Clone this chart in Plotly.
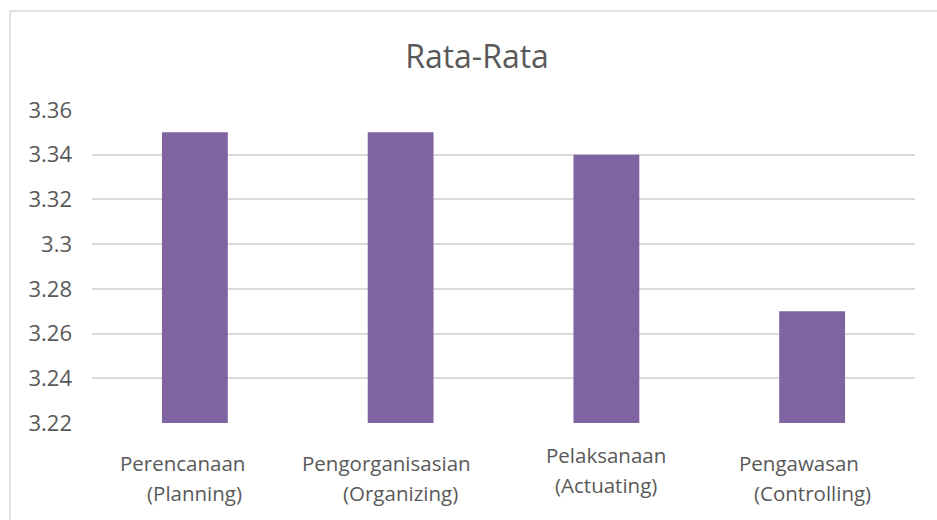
import plotly.graph_objects as go

categories = ["Perencanaan (Planning)", "Pengorganisasian (Organizing)",
              "Pelaksanaan (Actuating)", "Pengawasan (Controlling)"]
values = [3.35, 3.35, 3.34, 3.27]
label_line1 = ["Perencanaan", "Pengorganisasian", "Pelaksanaan", "Pengawasan"]
label_line2 = ["(Planning)", "(Organizing)", "(Actuating)", "(Controlling)"]
tick_vals = [3.22, 3.24, 3.26, 3.28, 3.30, 3.32, 3.34, 3.36]
tick_text = ["3.22", "3.24", "3.26", "3.28", "3.3", "3.32", "3.34", "3.36"]

FONT = "Open Sans"
TXT = "#595959"

W, H = 937, 520
ml, mr, mt, mb = 92, 22, 110, 97
pw, ph = W - ml - mr, H - mt - mb

fig = go.Figure(go.Bar(x=categories, y=values, marker=dict(color="#8064A2", line=dict(width=0)),
                       hoverinfo="x+y"))

# label layout (pixel offsets below plot bottom, x-shift of first line)
line1_dy = [40, 40, 32, 40]
line1_dx = [-12, -14, 0, -13]
annotations = []
for i, c in enumerate(categories):
    annotations.append(dict(x=c, xref="x", y=0, yref="paper", text=label_line1[i],
                            showarrow=False, yanchor="middle", yshift=-line1_dy[i], xshift=line1_dx[i],
                            font=dict(family=FONT, size=20.5, color=TXT)))
    annotations.append(dict(x=c, xref="x", y=0, yref="paper", text=label_line2[i],
                            showarrow=False, yanchor="middle", yshift=-(line1_dy[i] + 30),
                            font=dict(family=FONT, size=20.5, color=TXT)))

fig.update_layout(
    width=W, height=H,
    margin=dict(l=ml, r=mr, t=mt, b=mb),
    paper_bgcolor="white", plot_bgcolor="white",
    bargap=0.68,
    showlegend=False,
    title=dict(text="Rata-Rata", x=477 / W, xanchor="center", y=1 - 57 / H, yanchor="middle",
               font=dict(family=FONT, size=32, color=TXT)),
    xaxis=dict(showticklabels=False, showgrid=False, zeroline=False, showline=False, ticks=""),
    yaxis=dict(range=[3.22, 3.36], tickvals=tick_vals, ticktext=tick_text,
               showgrid=True, gridcolor="#D9D9D9", gridwidth=1.5, zeroline=False,
               showline=False, ticks="", ticklabelstandoff=19,
               tickfont=dict(family=FONT, size=22, color=TXT)),
    annotations=annotations,
    shapes=[dict(type="rect", xref="paper", yref="paper",
                 x0=(10 - ml) / pw, x1=(W + 20 - ml) / pw,
                 y0=-(mb + 20) / ph, y1=(H - 11 - mb) / ph,
                 line=dict(color="#D9D9D9", width=1.5), fillcolor="rgba(0,0,0,0)", layer="below")],
)

fig.write_html("out.html")
